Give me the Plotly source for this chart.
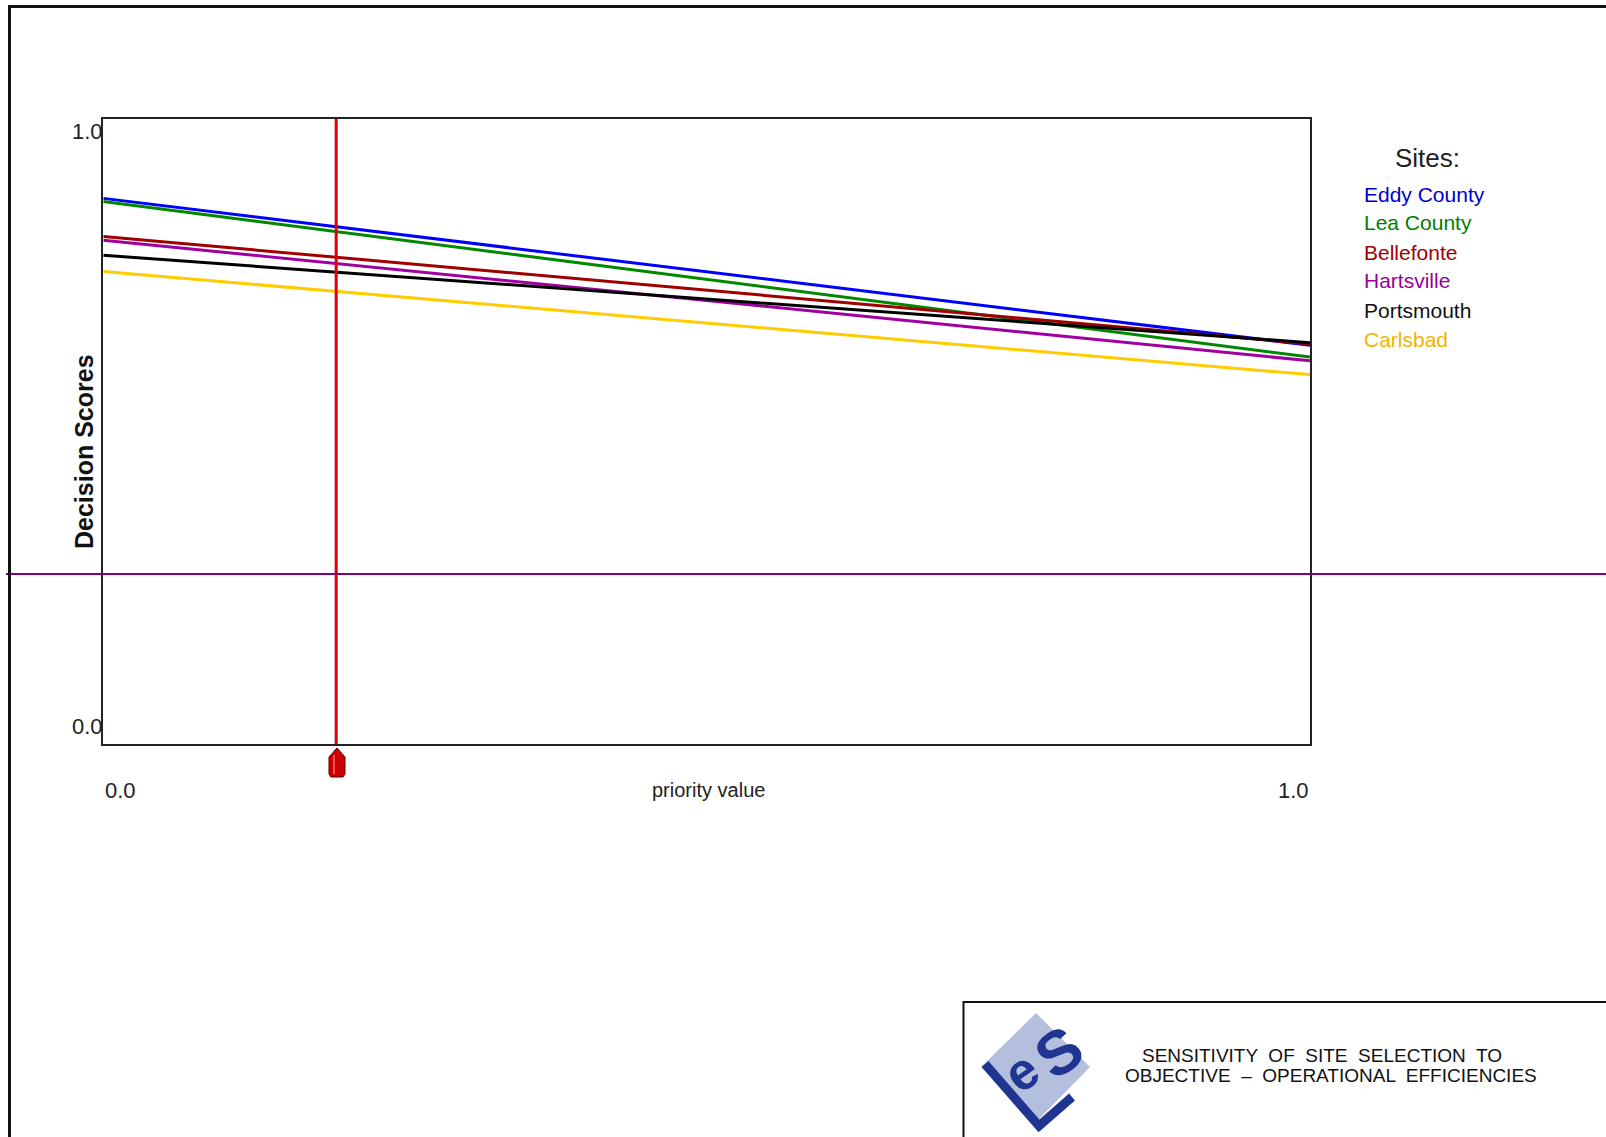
import plotly.graph_objects as go

# ---- data ----
sites = ["Eddy County", "Lea County", "Bellefonte", "Hartsville", "Portsmouth", "Carlsbad"]
priority = [0.0, 1.0]
score_at_0 = [0.873, 0.868, 0.812, 0.806, 0.782, 0.756]
score_at_1 = [0.638, 0.619, 0.640, 0.613, 0.642, 0.591]
line_colors = ["#0000ff", "#008800", "#a00000", "#a000a0", "#000000", "#ffcc00"]
text_colors = ["#0000cc", "#008000", "#a00000", "#990099", "#111111", "#f0b400"]
current_priority = 0.193
y_ticks = ["1.0", "0.0"]
x_ticks = ["0.0", "1.0"]

W, H = 1606, 1137


def px(x):
    return x / W


def py(y):
    return 1 - y / H


fig = go.Figure()
for name, a, b, c in zip(sites, score_at_0, score_at_1, line_colors):
    fig.add_trace(go.Scatter(x=priority, y=[a, b], mode="lines", name=name,
                             line=dict(color=c, width=3), showlegend=False,
                             hoverinfo="skip"))

L, R, T, B = 103.3, 1310, 119, 744
fig.update_layout(
    width=W, height=H, margin=dict(l=0, r=0, t=0, b=0),
    paper_bgcolor="white", plot_bgcolor="white",
    font=dict(family="Liberation Sans, Arial, sans-serif", color="#222"),
    xaxis=dict(domain=[px(L), px(R)], range=[0, 1], showgrid=False, zeroline=False,
               showticklabels=False, ticks="", showline=True, linecolor="#222",
               linewidth=2, mirror=True, fixedrange=True),
    yaxis=dict(domain=[py(B), py(T)], range=[0, 1], showgrid=False, zeroline=False,
               showticklabels=False, ticks="", showline=True, linecolor="#222",
               linewidth=2, mirror=True, fixedrange=True),
)

shapes = []
# red priority marker line
shapes.append(dict(type="line", xref="x", yref="paper", x0=current_priority, x1=current_priority,
                   y0=py(B), y1=py(T), line=dict(color="#e00000", width=3), layer="above"))
# slider handle
xs = [329, 337, 345, 345, 343, 331, 329]
ys = [757, 748, 757, 774, 777, 777, 774]
path = "M " + " L ".join(f"{px(x)},{py(y)}" for x, y in zip(xs, ys)) + " Z"
shapes.append(dict(type="path", xref="paper", yref="paper", path=path,
                   fillcolor="#cc0000", line=dict(color="#5a0000", width=1)))
shapes.append(dict(type="line", xref="paper", yref="paper", x0=px(334), x1=px(334),
                   y0=py(755), y1=py(774), line=dict(color="#ff5050", width=2)))
# horizontal purple line
shapes.append(dict(type="line", xref="paper", yref="paper", x0=px(6), x1=1,
                   y0=py(574), y1=py(574), line=dict(color="#800080", width=2), layer="above"))
# outer frame
shapes.append(dict(type="line", xref="paper", yref="paper", x0=px(8), x1=1,
                   y0=py(6.5), y1=py(6.5), line=dict(color="#111", width=3)))
shapes.append(dict(type="line", xref="paper", yref="paper", x0=px(9.5), x1=px(9.5),
                   y0=py(5), y1=0, line=dict(color="#111", width=3)))
# title box
shapes.append(dict(type="line", xref="paper", yref="paper", x0=px(963), x1=1,
                   y0=py(1002), y1=py(1002), line=dict(color="#111", width=2)))
shapes.append(dict(type="line", xref="paper", yref="paper", x0=px(963.5), x1=px(963.5),
                   y0=py(1001), y1=0, line=dict(color="#111", width=2)))
# logo diamond
dx = [1036, 1090, 1036, 981]
dy = [1013, 1067, 1122, 1067]
path = "M " + " L ".join(f"{px(x)},{py(y)}" for x, y in zip(dx, dy)) + " Z"
shapes.append(dict(type="path", xref="paper", yref="paper", path=path,
                   fillcolor="#b4bedd", line=dict(width=0)))
lx = [985, 1039, 1072]
ly = [1064, 1126, 1097]
path = "M " + " L ".join(f"{px(x)},{py(y)}" for x, y in zip(lx, ly))
shapes.append(dict(type="path", xref="paper", yref="paper", path=path,
                   line=dict(color="#1f3590", width=9)))
fig.update_layout(shapes=shapes)

ann = []


def add(text, x, y, size=20, xanchor="center", color="#222", angle=0, bold=False, family=None):
    d = dict(text=f"<b>{text}</b>" if bold else text, x=px(x), y=py(y), xref="paper", yref="paper",
             showarrow=False, xanchor=xanchor, yanchor="middle", textangle=angle,
             font=dict(size=size, color=color))
    if family:
        d["font"]["family"] = family
    ann.append(d)


add(y_ticks[0], 105, 132, 22, "right")
add(y_ticks[1], 105, 726, 22, "right")
add(x_ticks[0], 103, 790, 22, "left")
add(x_ticks[1], 1311, 790, 22, "right")
add("priority value", 708, 790, 20)
add("Decision Scores", 84, 452, 25, angle=-90, bold=True, color="#111")
add("Sites:", 1427, 158, 26)
leg_y = [194.6, 222.3, 252, 280.6, 310.3, 339]
for name, c, yy in zip(sites, text_colors, leg_y):
    add(name, 1362, yy, 21, "left", color=c)
add("SENSITIVITY  OF  SITE  SELECTION  TO", 1322, 1055, 19, color="#111")
add("OBJECTIVE  \u2013  OPERATIONAL  EFFICIENCIES", 1331, 1075, 19, color="#111")
# logo letters
add("<b>e</b>", 1021, 1072, 52, color="#1f3590", angle=-35)
add("<b>S</b>", 1058, 1052, 62, color="#1f3590", angle=-35)
fig.update_layout(annotations=ann)

fig.write_html("out.html", config={"displayModeBar": False},
               post_script="document.body.style.margin='0';")
